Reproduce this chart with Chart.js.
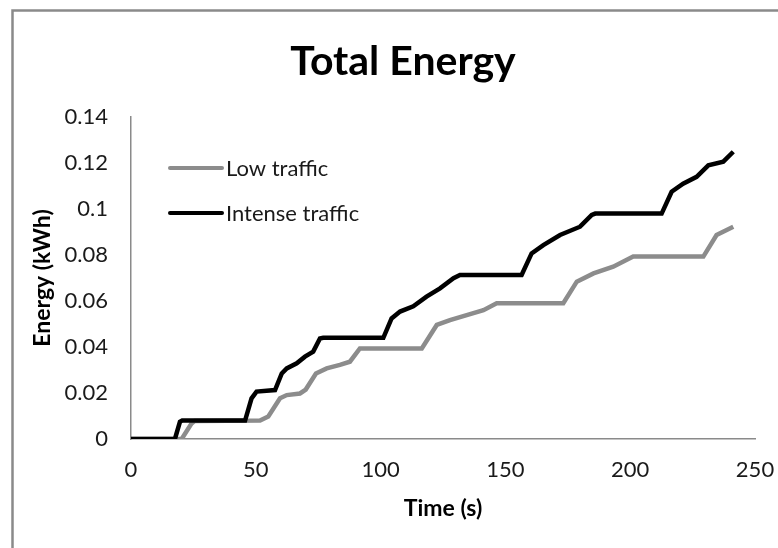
<!DOCTYPE html>
<html>
<head>
<meta charset="utf-8">
<title>Total Energy</title>
<script src="https://cdn.jsdelivr.net/npm/chart.js@4.4.0/dist/chart.umd.min.js"></script>
<style>
    html, body { margin: 0; padding: 0; background: #fff; }
    #wrap { width: 778px; height: 548px; }
</style>
</head>
<body>
<div id="wrap"><canvas id="energyChart" width="778" height="548"></canvas></div>
<script>
// time (s) / energy (kWh)
const lowTime = [0, 20.3, 24.3, 25.5, 51.7, 55, 59.7, 62.4, 67.7, 70, 74.1, 78.4, 83.7, 87.7, 91.7, 116.5,
    122.5, 127.8, 134.5, 141.2, 146.5, 173.2, 178.6, 185.3, 193.2, 201.2, 229.3, 234.6, 241.3];
const lowEnergy = [0, 0, 0.0068, 0.0078, 0.008, 0.0098, 0.0177, 0.0191, 0.0198, 0.0215, 0.0285, 0.0307, 0.0322, 0.0336, 0.0394, 0.0394,
    0.0496, 0.0517, 0.0539, 0.056, 0.059, 0.059, 0.0684, 0.072, 0.0749, 0.0793, 0.0793, 0.0887, 0.0923];

const intenseTime = [0, 17.6, 19.6, 20.5, 45.7, 48.3, 50.3, 57.7, 60.4, 62.4, 66.4, 69.7, 73, 75.7, 77, 101.1,
    104.4, 107.8, 113.1, 118.4, 123.8, 129.2, 131.8, 156.5, 160.5, 165.2, 171.9, 179.9, 184.6, 186, 212.6,
    216.6, 221.2, 226.6, 231.3, 237.3, 241.3];
const intenseEnergy = [0, 0, 0.0075, 0.008, 0.008, 0.0177, 0.0206, 0.0213, 0.0285, 0.0307, 0.0329, 0.0358, 0.038, 0.0437, 0.044, 0.044,
    0.0524, 0.0554, 0.0577, 0.0619, 0.0655, 0.0699, 0.0713, 0.0713, 0.0807, 0.0843, 0.0887, 0.0923, 0.0974, 0.098, 0.098,
    0.1075, 0.111, 0.114, 0.119, 0.1206, 0.1249];

const seriesNames = ['Low traffic', 'Intense traffic'];
const xTicks = [0, 50, 100, 150, 200, 250];
const yTicks = [0, 0.02, 0.04, 0.06, 0.08, 0.1, 0.12, 0.14];
const chartTitle = 'Total Energy';

function toPoints(xs, ys) {
    return xs.map((x, i) => ({ x: x, y: ys[i] }));
}

const FONT = 'Lato, "Open Sans", sans-serif';

// excel style frame (left + top edges only visible) and the title
const framePlugin = {
    id: 'frame',
    beforeDraw(chart) {
        const ctx = chart.ctx;
        ctx.save();
        ctx.strokeStyle = '#8a8a8a';
        ctx.lineWidth = 2.5;
        ctx.beginPath();
        ctx.moveTo(12.5, chart.height);
        ctx.lineTo(12.5, 10.5);
        ctx.lineTo(chart.width, 10.5);
        ctx.stroke();

        ctx.fillStyle = '#000';
        ctx.font = 'bold 41px ' + FONT;
        ctx.textAlign = 'center';
        ctx.textBaseline = 'middle';
        ctx.fillText(chartTitle, 403, 62);
        ctx.restore();
    }
};

// legend sits inside the plot, top left
const innerLegend = {
    id: 'innerLegend',
    afterDatasetsDraw(chart) {
        const ctx = chart.ctx;
        const area = chart.chartArea;
        ctx.save();
        ctx.font = '22px ' + FONT;
        ctx.textBaseline = 'middle';
        chart.data.datasets.forEach((ds, i) => {
            const y = area.top + 51 + i * 45;
            const x = area.left + 39;
            ctx.strokeStyle = ds.borderColor;
            ctx.lineWidth = 4;
            ctx.lineCap = 'round';
            ctx.beginPath();
            ctx.moveTo(x, y);
            ctx.lineTo(x + 52, y);
            ctx.stroke();
            ctx.fillStyle = '#1a1a1a';
            ctx.fillText(ds.label, x + 56, y + 1);
        });
        ctx.restore();
    }
};

new Chart(document.getElementById('energyChart'), {
    type: 'line',
    data: {
        datasets: [{
            label: seriesNames[0],
            data: toPoints(lowTime, lowEnergy),
            borderColor: '#8c8c8c',
            borderWidth: 4.5,
            pointRadius: 0,
            tension: 0,
            order: 2
        }, {
            label: seriesNames[1],
            data: toPoints(intenseTime, intenseEnergy),
            borderColor: '#000000',
            borderWidth: 4.5,
            pointRadius: 0,
            tension: 0,
            order: 1
        }]
    },
    options: {
        responsive: false,
        animation: false,
        layout: { padding: { left: 0, right: 23, top: 117, bottom: 0 } },
        plugins: {
            legend: { display: false },
            tooltip: { enabled: false },
            title: { display: false }
        },
        scales: {
            x: {
                type: 'linear',
                min: xTicks[0],
                max: xTicks[xTicks.length - 1],
                afterBuildTicks: (scale) => { scale.ticks = xTicks.map(v => ({ value: v })); },
                afterFit: (scale) => {
                    scale.height = 109;
                    scale.paddingRight = 0;
                    scale.paddingLeft = 0;
                },
                grid: { display: false, drawTicks: false },
                border: { display: true, color: '#8a8a8a', width: 1.5 },
                ticks: {
                    padding: 18,
                    maxRotation: 0,
                    color: '#1a1a1a',
                    font: { family: FONT, size: 22 }
                },
                title: {
                    display: true,
                    text: 'Time (s)',
                    color: '#000',
                    font: { family: FONT, size: 23, weight: 'bold' },
                    padding: { top: 0, bottom: 26 }
                }
            },
            y: {
                min: yTicks[0],
                max: yTicks[yTicks.length - 1],
                afterBuildTicks: (scale) => { scale.ticks = yTicks.map(v => ({ value: v })); },
                afterFit: (scale) => { scale.width = 131; },
                grid: { display: false, drawTicks: false },
                border: { display: true, color: '#8a8a8a', width: 1.5 },
                ticks: {
                    padding: 23,
                    color: '#1a1a1a',
                    font: { family: FONT, size: 22 },
                    callback: (v) => String(+Number(v).toFixed(2))
                },
                title: {
                    display: true,
                    text: 'Energy (kWh)',
                    color: '#000',
                    font: { family: FONT, size: 23, weight: 'bold' },
                    padding: { top: 29, bottom: 0 }
                }
            }
        }
    },
    plugins: [framePlugin, innerLegend]
});
</script>
</body>
</html>
